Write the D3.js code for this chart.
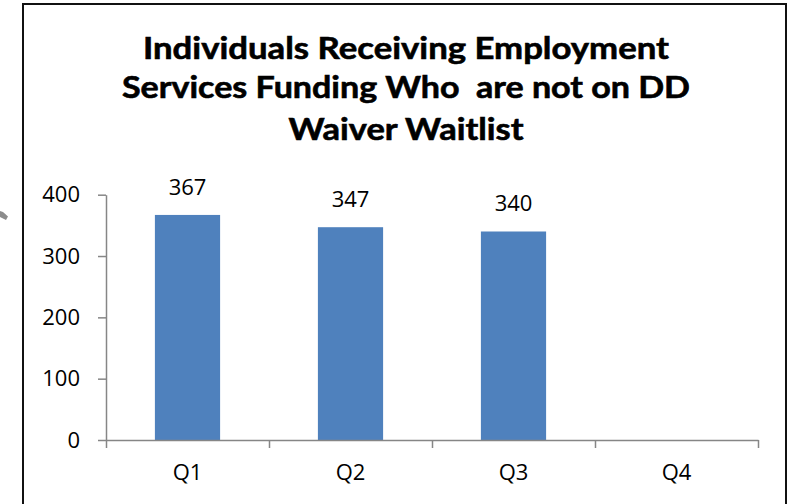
<!DOCTYPE html>
<html>
<head>
<meta charset="utf-8">
<script src="https://cdn.jsdelivr.net/npm/d3@7"></script>
<style>
  html, body { margin: 0; padding: 0; background: #fff; }
  svg { display: block; }
  text { white-space: pre; }
</style>
</head>
<body>
<svg id="chart" width="793" height="504"></svg>
<script>
// Quarterly counts; Q4 has not been reported yet
const quarters = ["Q1", "Q2", "Q3", "Q4"];
const individuals = [367, 347, 340, null];
const yTicks = [0, 100, 200, 300, 400];
const titleLines = [
  "Individuals Receiving Employment",
  "Services Funding Who  are not on DD",
  "Waiver Waitlist"
];

const svg = d3.select("#chart");
const numFont = "'Open Sans', 'Liberation Sans', sans-serif";
const axisColor = "#868686";

// stray arrow fragment at the left edge
svg.append("path")
  .attr("d", "M0,211 L3,212 L8,216.5 L6,220 L0,217 Z")
  .attr("fill", "#8c8c8c");

// chart frame
svg.append("rect")
  .attr("x", 23).attr("y", 4)
  .attr("width", 763).attr("height", 540)
  .attr("fill", "#fff")
  .attr("stroke", "#111").attr("stroke-width", 2);

// title
const titleY = [59, 98, 140];
const titleWidths = [526, 568, 235];
svg.append("g").selectAll("text")
  .data(titleLines)
  .join("text")
  .attr("x", 406)
  .attr("y", (d, i) => titleY[i])
  .attr("text-anchor", "middle")
  .attr("font-family", "Lato, 'Open Sans', sans-serif")
  .attr("font-weight", "bold")
  .attr("font-size", 30)
  .attr("fill", "#000")
  .attr("stroke", "#000")
  .attr("stroke-width", 0.6)
  .attr("textLength", (d, i) => titleWidths[i])
  .attr("lengthAdjust", "spacingAndGlyphs")
  .text(d => d);

// scales
const x = d3.scaleBand().domain(quarters).range([106, 758]).padding(0);
const y = d3.scaleLinear().domain([0, 400]).range([440, 194.7]);
const barW = x.bandwidth() * 0.4;

// bars
const data = quarters.map((q, i) => ({ q, v: individuals[i] })).filter(d => d.v != null);
svg.append("g").selectAll("rect")
  .data(data)
  .join("rect")
  .attr("x", d => x(d.q) + (x.bandwidth() - barW) / 2)
  .attr("width", barW)
  .attr("y", d => y(d.v))
  .attr("height", d => y(0) - y(d.v))
  .attr("fill", "#4F81BD");

// value labels
svg.append("g").selectAll("text")
  .data(data)
  .join("text")
  .attr("x", d => x(d.q) + x.bandwidth() / 2)
  .attr("y", d => y(d.v) - 20)
  .attr("text-anchor", "middle")
  .attr("font-family", numFont)
  .attr("font-size", 22)
  .attr("fill", "#000")
  .text(d => d.v);

// y axis
const yAxis = svg.append("g")
  .attr("transform", "translate(106,0)")
  .call(d3.axisLeft(y).tickValues(yTicks).tickSize(8).tickSizeOuter(0).tickPadding(18));
yAxis.select(".domain").attr("stroke", axisColor).attr("stroke-width", 1.5);
yAxis.selectAll(".tick line").attr("stroke", axisColor).attr("stroke-width", 1.5);
yAxis.selectAll(".tick text")
  .attr("font-family", numFont).attr("font-size", 22).attr("fill", "#000");

// x axis: category labels under each band, tick marks at band boundaries
const xb = d3.scaleLinear().domain([0, quarters.length]).range([106, 758]);
const xTicks = svg.append("g")
  .attr("transform", "translate(0,440)")
  .call(d3.axisBottom(xb).ticks(quarters.length).tickSize(8).tickSizeOuter(0).tickFormat(""));
xTicks.select(".domain").attr("stroke", axisColor).attr("stroke-width", 1.5);
xTicks.selectAll(".tick line").attr("stroke", axisColor).attr("stroke-width", 1.5);

const xLabels = svg.append("g")
  .attr("transform", "translate(0,440)")
  .call(d3.axisBottom(x).tickSize(0).tickPadding(24));
xLabels.select(".domain").remove();
xLabels.selectAll(".tick text")
  .attr("font-family", numFont).attr("font-size", 22).attr("fill", "#000");
</script>
</body>
</html>
